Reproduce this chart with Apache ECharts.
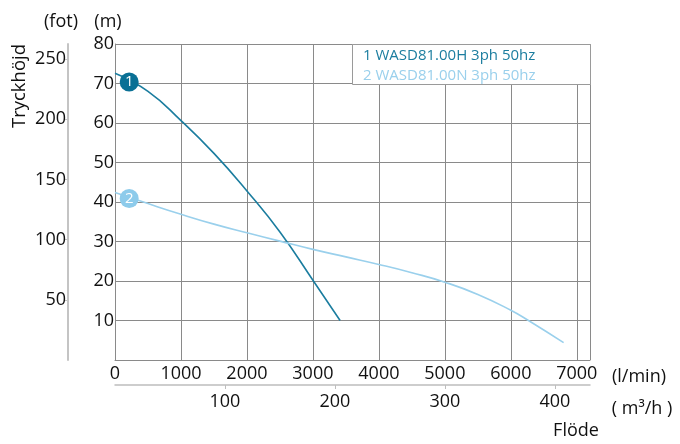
<!DOCTYPE html>
<html><head><meta charset="utf-8">
<script src="https://cdn.jsdelivr.net/npm/echarts@6/dist/echarts.min.js"></script>
<style>html,body{margin:0;padding:0;background:#fff}#c{width:680px;height:444px}</style>
</head><body><div id="c"></div>
<script>
// ---- data ----
const seriesNames = ['1 WASD81.00H 3ph 50hz', '2 WASD81.00N 3ph 50hz'];
const markerLabels = ['1', '2'];
const flow1 = [0, 500, 1000, 1500, 2000, 2500, 3000, 3412];
const head1 = [72.6, 68.0, 60.6, 52.3, 42.8, 32.4, 20.2, 10];
const flow2 = [0, 500, 1000, 1500, 2000, 2500, 3000, 3500, 4000, 4500, 5000, 5500, 6000, 6267, 6800];
const head2 = [42.4, 39.6, 36.9, 34.4, 32.2, 30.1, 28.0, 26.1, 24.2, 22.1, 19.7, 16.6, 12.6, 10.0, 4.4];
const markerFlow = [215, 215];
const markerHead = [70.4, 40.9];
const lminTicks = [0, 1000, 2000, 3000, 4000, 5000, 6000, 7000];
const m3hTicks = [100, 200, 300, 400];
const meterTicks = [10, 20, 30, 40, 50, 60, 70, 80];
const feetTicks = [50, 100, 150, 200, 250];
const flowMaxLmin = 7200;
const headMaxM = 80;

const FONT = '"Open Sans", "Noto Sans", sans-serif';
const c1 = '#1b7d9f', c2 = '#9ad0ec';
const m1 = '#0a7095', m2 = '#8dcbeb';
const grid = '#8a8a8a';

const chart = echarts.init(document.getElementById('c'), null, {renderer: 'canvas'});
const lab = {fontFamily: FONT, fontSize: 18, color: '#111', formatter: v => String(v)};

chart.setOption({
  animation: false,
  grid: {left: 115, right: 90, top: 44, bottom: 84},
  xAxis: [
    {type: 'value', min: 0, max: flowMaxLmin, interval: 1000,
     axisLine: {show: true, onZero: false, lineStyle: {color: grid, width: 1}},
     axisTick: {show: false},
     splitLine: {show: true, lineStyle: {color: grid, width: 1}},
     axisLabel: Object.assign({customValues: lminTicks, margin: 5}, lab)},
    {type: 'value', min: 0, max: flowMaxLmin * 60 / 1000, position: 'bottom', offset: 25,
     axisLine: {show: true, onZero: false, lineStyle: {color: '#bdbdbd', width: 1.5}},
     axisTick: {show: true, customValues: m3hTicks, length: 4, lineStyle: {color: '#bdbdbd'}},
     splitLine: {show: false},
     axisLabel: Object.assign({customValues: m3hTicks, margin: 8}, lab)}
  ],
  yAxis: [
    {type: 'value', min: 0, max: headMaxM, interval: 10,
     axisLine: {show: true, onZero: false, lineStyle: {color: grid}},
     axisTick: {show: false},
     splitLine: {show: true, lineStyle: {color: grid, width: 1}},
     axisLabel: Object.assign({customValues: meterTicks, margin: 1}, lab)},
    {type: 'value', min: 0, max: headMaxM / 0.3048, position: 'left', offset: 47,
     axisLine: {show: true, onZero: false, lineStyle: {color: '#c4c4c4', width: 2}},
     axisTick: {show: true, customValues: feetTicks, length: 3, lineStyle: {color: '#c4c4c4'}},
     splitLine: {show: false},
     axisLabel: Object.assign({customValues: feetTicks, margin: 2}, lab)}
  ],
  series: [
    {type: 'line', name: seriesNames[0], xAxisIndex: 0, yAxisIndex: 0, smooth: 0.5, symbol: 'none',
     lineStyle: {color: c1, width: 1.6}, data: flow1.map((f, i) => [f, head1[i]])},
    {type: 'line', name: seriesNames[1], xAxisIndex: 0, yAxisIndex: 0, smooth: 0.5, symbol: 'none',
     lineStyle: {color: c2, width: 1.6}, data: flow2.map((f, i) => [f, head2[i]])},
    {type: 'scatter', xAxisIndex: 0, yAxisIndex: 0, symbolSize: 19, z: 5,
     data: markerFlow.map((f, i) => ({value: [f, markerHead[i]], itemStyle: {color: i === 0 ? m1 : m2, opacity: 1},
       label: {show: true, position: 'inside', formatter: markerLabels[i], color: '#fff', fontSize: 15, fontFamily: FONT}}))}
  ],
  graphic: [
    {type: 'text', x: 61, y: 22, style: {text: '(fot)', font: '18px ' + FONT, fill: '#111', align: 'center', verticalAlign: 'middle'}},
    {type: 'text', x: 108, y: 22, style: {text: '(m)', font: '18px ' + FONT, fill: '#111', align: 'center', verticalAlign: 'middle'}},
    {type: 'text', x: 20, y: 86, rotation: Math.PI / 2, style: {text: 'Tryckhöjd', font: '18.5px ' + FONT, fill: '#111', align: 'center', verticalAlign: 'middle'}},
    {type: 'text', x: 639, y: 377, style: {text: '(l/min)', font: '18px ' + FONT, fill: '#111', align: 'center', verticalAlign: 'middle'}},
    {type: 'text', x: 642, y: 409, style: {text: '( m³/h )', font: '18px ' + FONT, fill: '#111', align: 'center', verticalAlign: 'middle'}},
    {type: 'text', x: 576, y: 431, style: {text: 'Flöde', font: '18px ' + FONT, fill: '#111', align: 'center', verticalAlign: 'middle'}},
    {type: 'rect', z: 10, shape: {x: 352.5, y: 44.5, width: 238, height: 40}, style: {fill: '#fff', stroke: '#9a9a9a', lineWidth: 1}},
    {type: 'text', z: 11, x: 363, y: 56, style: {text: seriesNames[0], font: '15px ' + FONT, fill: c1, align: 'left', verticalAlign: 'middle'}},
    {type: 'text', z: 11, x: 363, y: 76, style: {text: seriesNames[1], font: '15px ' + FONT, fill: c2, align: 'left', verticalAlign: 'middle'}}
  ]
});
</script></body></html>
